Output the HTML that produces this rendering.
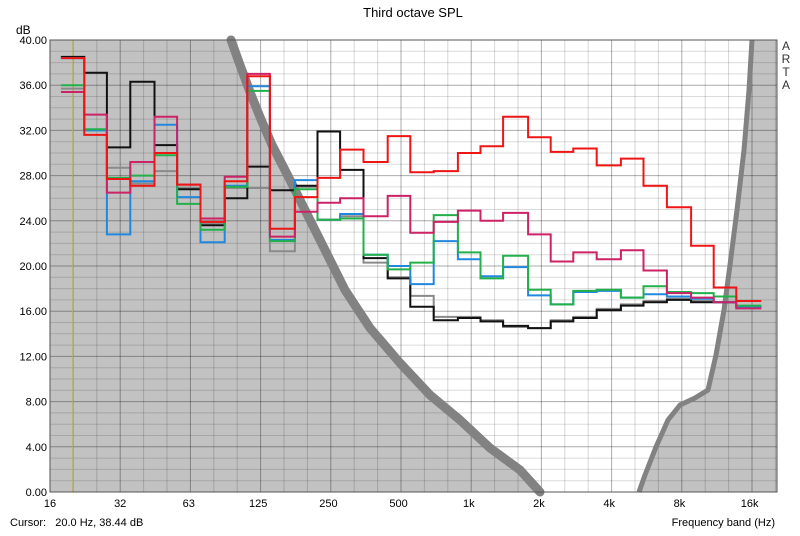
<!DOCTYPE html>
<html><head><meta charset="utf-8"><style>
body{margin:0;background:#fff;width:800px;height:531px;overflow:hidden;font-family:"Liberation Sans",Arial,sans-serif}
svg text{font-family:"Liberation Sans",Arial,sans-serif}
</style></head><body>
<svg id="chart" width="800" height="531" viewBox="0 0 800 531" xmlns="http://www.w3.org/2000/svg">
<rect x="0" y="0" width="800" height="531" fill="#fff"/>
<text x="413" y="17" font-size="13" text-anchor="middle" fill="#000">Third octave SPL</text>
<text x="16" y="34" font-size="12" fill="#000">dB</text>
<g font-size="12" fill="#333" text-anchor="middle">
<text x="786" y="50">A</text><text x="786" y="63">R</text><text x="786" y="76">T</text><text x="786" y="89">A</text>
</g>
<g id="plot"></g>
<text x="10" y="526" font-size="11" fill="#000">Cursor:&#160;&#160;&#160;20.0 Hz, 38.44 dB</text>
<text x="775" y="526" font-size="11" text-anchor="end" fill="#000">Frequency band (Hz)</text>
</svg>
<script>
const bands = [20,25,31.5,40,50,63,80,100,125,160,200,250,315,400,500,630,800,1000,1250,1600,2000,2500,3150,4000,5000,6300,8000,10000,12500,16000];
const redVals = [38.4,31.6,27.7,27.1,30.0,27.2,23.9,27.5,36.8,23.3,26.1,27.8,30.3,29.2,31.5,28.3,28.4,30.0,30.6,33.2,31.4,30.1,30.4,28.9,29.5,27.1,25.2,21.8,18.1,16.9];
const crimsonVals = [35.4,33.4,26.5,29.2,33.2,27.2,24.2,27.9,37.0,22.6,24.8,25.6,26.0,24.4,26.2,22.95,23.9,24.9,24.0,24.7,22.8,20.4,21.2,20.6,21.4,19.6,17.6,17.2,16.8,16.25];
const greenVals = [36.0,32.1,27.8,28.0,29.8,25.5,23.2,27.0,35.5,22.2,26.8,24.1,24.2,21.0,19.7,20.3,24.5,21.2,18.9,20.9,17.9,16.6,17.8,17.9,17.2,18.2,17.7,17.6,17.3,16.5];
const blueVals = [38.4,32.0,22.8,27.5,32.5,26.1,22.1,27.1,35.9,22.3,27.6,24.1,24.6,21.0,20.0,18.4,22.2,20.6,19.1,19.9,17.4,16.6,17.7,17.8,17.2,17.5,17.3,17.1,16.8,16.35];
const blackVals = [38.5,37.1,30.5,36.3,30.7,26.8,23.6,26.0,28.8,26.7,27.1,31.9,28.5,20.7,18.9,16.4,15.2,15.4,15.1,14.7,14.5,15.1,15.4,16.1,16.5,16.8,17.0,16.8,16.8,16.4];
const grayVals = [35.7,32.0,28.7,27.3,28.4,26.9,23.8,26.9,26.9,21.3,27.0,24.1,24.4,20.3,19.0,17.35,15.5,15.5,15.2,14.6,14.5,15.2,15.5,16.2,16.6,16.9,17.1,16.9,16.8,16.4];
const yTicks = [0,4,8,12,16,20,24,28,32,36,40];
const xTickFreqs = [16,32,63,125,250,500,1000,2000,4000,8000,16000];
const xTickLabels = ["16","32","63","125","250","500","1k","2k","4k","8k","16k"];

const NS="http://www.w3.org/2000/svg";
const L=50,R=777,T=40,B=492;
const oct=70.2;
function xs(f){return L+oct*Math.log2(f/16);}
function ys(v){return B-(v/40)*(B-T);}
const plot=document.getElementById('plot');
function mk(tag,attrs,parent){const e=document.createElementNS(NS,tag);for(const k in attrs)e.setAttribute(k,attrs[k]);(parent||plot).appendChild(e);return e;}

const bg=mk('rect',{x:L,y:T,width:R-L,height:B-T,fill:'#fff'});



const leftPts=[[231,40],[240,65],[250,92],[260,117],[272,145],[288,176],[305,210],[323,246],[345,290],[370,328],[400,363],[430,395],[460,420],[490,448],[520,470],[540,492]];
const rightPts=[[752,40],[749,90],[744,150],[737,210],[730,265],[724,310],[716,355],[708,390],[695,398],[680,405],[668,420],[656,447],[645,475],[639,492]];
const lp='M'+L+','+T+' '+leftPts.map(p=>'L'+p[0]+','+p[1]).join(' ')+' L'+L+','+B+'Z';
const lf=mk('path',{d:lp,fill:'#c2c2c2'});


const rp='M'+R+','+T+' '+rightPts.map(p=>'L'+p[0]+','+p[1]).join(' ')+' L'+R+','+B+'Z';
const rf=mk('path',{d:rp,fill:'#c2c2c2'});



const grid=mk('g',{});


for(let v=0;v<=40;v++){
  const major=v%4===0;
  mk('line',{x1:L,x2:R,y1:ys(v),y2:ys(v),stroke:major?'rgba(0,0,0,0.33)':'rgba(0,0,0,0.14)','stroke-width':1},grid);
}
for(let k=0;k<=31;k++){
  const x=L+k*oct/3;
  if(x>R)break;
  const major=k%3===0;
  mk('line',{x1:x,x2:x,y1:T,y2:B,stroke:major?'rgba(0,0,0,0.33)':'rgba(0,0,0,0.16)','stroke-width':1},grid);
}
const lc=mk('path',{d:'M'+leftPts.map(p=>p[0]+','+p[1]).join(' L'),fill:'none',stroke:'#828282','stroke-width':9,'stroke-linejoin':'round','stroke-linecap':'round'});


const rc=mk('path',{d:'M'+rightPts.map(p=>p[0]+','+p[1]).join(' L'),fill:'none',stroke:'#828282','stroke-width':5,'stroke-linejoin':'round'});


const cur=mk('line',{x1:xs(20),x2:xs(20),y1:T,y2:B,stroke:'#b8b070','stroke-width':1});



const series=[['gray-series',grayVals,'#8a8a8a'],['black-series',blackVals,'#111111'],['blue-series',blueVals,'#2288dd'],['green-series',greenVals,'#22b04a'],['crimson-series',crimsonVals,'#cc2266'],['red-series',redVals,'#ee1515']];
const half=Math.pow(2,1/6);
series.forEach(s=>{
  const vals=s[1];
  let d='';
  vals.forEach((v,i)=>{
    const x0=xs(bands[i]/half),x1=xs(bands[i]*half);
    if(i===0)d+='M'+x0.toFixed(1)+','+ys(v).toFixed(1);
    else d+=' V'+ys(v).toFixed(1);
    d+=' H'+x1.toFixed(1);
  });
  const p=mk('path',{d:d,fill:'none',stroke:s[2],'stroke-width':2});
  
  
});

const fr=mk('rect',{x:L,y:T,width:R-L,height:B-T,fill:'none',stroke:'#555','stroke-width':1});



yTicks.forEach(v=>{
  const t=mk('text',{x:47,y:ys(v)+4,'font-size':11,'text-anchor':'end',fill:'#000'});
  t.textContent=v.toFixed(2);
  
  
});
xTickFreqs.forEach((f,i)=>{
  const t=mk('text',{x:xs(f),y:507,'font-size':11,'text-anchor':'middle',fill:'#000'});
  t.textContent=xTickLabels[i];
  
  
});
</script>
</body></html>
